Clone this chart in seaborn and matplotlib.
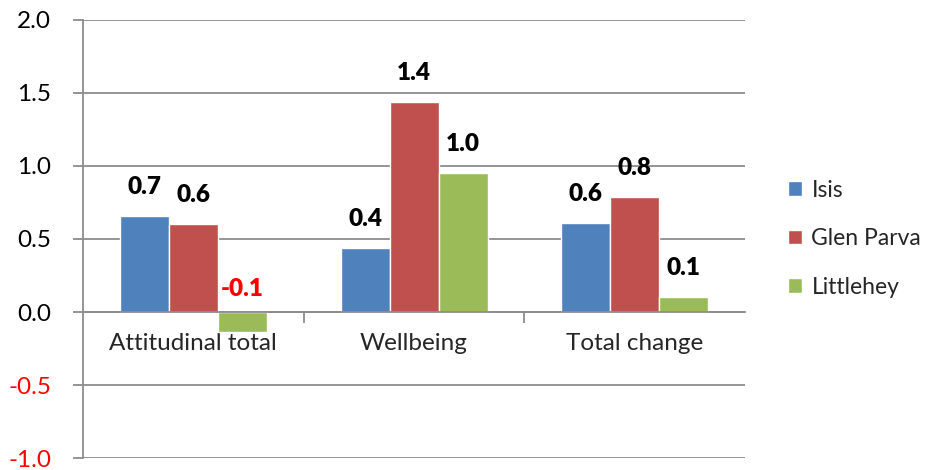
import matplotlib
matplotlib.use("Agg")
import matplotlib.pyplot as plt
import seaborn as sns
import pandas as pd

categories = ["Attitudinal total", "Wellbeing", "Total change"]
series = ["Isis", "Glen Parva", "Littlehey"]
isis = [0.66, 0.44, 0.61]
glen_parva = [0.60, 1.44, 0.79]
littlehey = [-0.14, 0.952, 0.10]
colors = ["#4F81BD", "#C0504D", "#9BBB59"]
yticks = [-1.0, -0.5, 0.0, 0.5, 1.0, 1.5, 2.0]

rows = []
for name, vals in zip(series, [isis, glen_parva, littlehey]):
    for c, v in zip(categories, vals):
        rows.append({"Category": c, "Series": name, "Value": v})
df = pd.DataFrame(rows)

sns.set_theme(style="white")
plt.rcParams["font.family"] = ["Lato", "DejaVu Sans"]

FS = 17.5

fig = plt.figure(figsize=(9.32, 4.70), dpi=100)
ax = fig.add_axes([0.089, 0.0255, 0.7105, 0.932])

sns.barplot(data=df, x="Category", y="Value", hue="Series", order=categories,
            hue_order=series, palette=colors, width=0.666, gap=0,
            saturation=1, ax=ax, legend=True)

grid_c = "#8C8C8C"
ax.set_ylim(-1.0, 2.0)
ax.set_xlim(-0.5, 2.5)
ax.set_yticks(yticks)
ax.set_yticklabels([f"{t:.1f}" for t in yticks], fontsize=FS)
for lab, t in zip(ax.get_yticklabels(), yticks):
    lab.set_color("#FF0000" if t < 0 else "black")
ax.yaxis.grid(True, color=grid_c, linewidth=1.3)
ax.set_axisbelow(True)
ax.tick_params(axis="y", length=7, width=1.3, color=grid_c, pad=16, left=True)

for s in ["top", "right"]:
    ax.spines[s].set_visible(False)
ax.spines["left"].set_color(grid_c)
ax.spines["left"].set_linewidth(1.3)
ax.spines["bottom"].set_position(("data", 0))
ax.spines["bottom"].set_color(grid_c)
ax.spines["bottom"].set_linewidth(1.3)

ax.set_xticks([0.5, 1.5])
ax.set_xticklabels(["", ""])
ax.set_xticks([0, 1, 2], minor=True)
ax.set_xticklabels(categories, minor=True, fontsize=FS)
ax.tick_params(axis="x", which="major", length=8, width=1.3, color=grid_c, bottom=True, direction="out")
ax.tick_params(axis="x", which="minor", length=0, pad=15)
ax.set_xlabel("")
ax.set_ylabel("")

for cont in ax.containers:
    for bar in cont:
        h = bar.get_height()
        xc = bar.get_x() + bar.get_width() / 2
        if h >= 0:
            ax.annotate(f"{h:.1f}", (xc, h), xytext=(0, 13), textcoords="offset points",
                        ha="center", va="bottom", fontsize=FS, fontweight="heavy", color="black")
        else:
            ax.annotate(f"{h:.1f}", (xc, 0), xytext=(0, 9), textcoords="offset points",
                        ha="center", va="bottom", fontsize=FS, fontweight="heavy", color="#FF0000")

leg = ax.legend(loc="center left", bbox_to_anchor=(0.846, 0.492), bbox_transform=fig.transFigure,
                frameon=False, fontsize=16.5, handlelength=0.6, handleheight=0.6,
                handletextpad=0.4, labelspacing=1.2, borderpad=0, borderaxespad=0)

fig.savefig("out.png", dpi=100)
